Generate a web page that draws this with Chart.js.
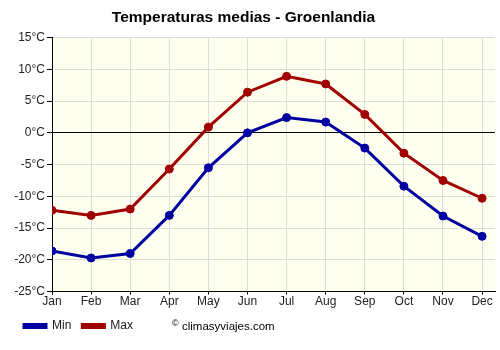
<!DOCTYPE html>
<html>
<head>
<meta charset="utf-8">
<script src="https://cdn.jsdelivr.net/npm/chart.js@4.4.0/dist/chart.umd.min.js"></script>
<style>
  html, body { margin: 0; padding: 0; background: #fff; }
  #wrap { width: 500px; height: 350px; position: relative; }
</style>
</head>
<body>
<div id="wrap"><canvas id="chart"></canvas></div>
<script>
// datos
const months = ['Jan', 'Feb', 'Mar', 'Apr', 'May', 'Jun', 'Jul', 'Aug', 'Sep', 'Oct', 'Nov', 'Dec'];
const tempMin = [-18.6, -19.7, -19.0, -13.0, -5.5, 0.0, 2.4, 1.7, -2.4, -8.4, -13.1, -16.3];
const tempMax = [-12.2, -13.0, -12.0, -5.7, 0.9, 6.4, 8.9, 7.7, 2.9, -3.2, -7.5, -10.3];
const yTicks = [-25, -20, -15, -10, -5, 0, 5, 10, 15];

const toPoints = (arr) => arr.map((v, i) => ({ x: i, y: v }));

const plotBg = {
    id: 'plotBg',
    afterLayout(chart) {
        // mover la leyenda un poco a la derecha y el titulo a la izquierda
        chart.legend.left += 13;
        chart.legend.right += 13;
        chart.titleBlock.right -= 20;
    },
    beforeDraw(chart) {
        const { ctx, chartArea: a } = chart;
        ctx.save();
        ctx.fillStyle = '#fffff0';
        ctx.fillRect(a.left, a.top, a.right - a.left, a.bottom - a.top);
        ctx.restore();
    },
    afterDraw(chart) {
        const ctx = chart.ctx;
        ctx.save();
        ctx.fillStyle = '#000';
        ctx.font = '9px "Liberation Sans", Arial, sans-serif';
        ctx.textBaseline = 'middle';
        ctx.fillText('©', 172, 324);
        ctx.font = '11.5px "Liberation Sans", Arial, sans-serif';
        ctx.fillText('climasyviajes.com', 182, 327);
        ctx.restore();
    }
};

const ctx = document.getElementById('chart').getContext('2d');
const chart = new Chart(ctx, {
    type: 'line',
    data: {
        datasets: [{
            label: 'Min',
            data: toPoints(tempMin),
            borderColor: '#0000a0',
            backgroundColor: '#0000a0',
            borderWidth: 3,
            pointRadius: 4,
            pointBorderWidth: 1,
            pointHoverRadius: 4
        }, {
            label: 'Max',
            data: toPoints(tempMax),
            borderColor: '#a00000',
            backgroundColor: '#a00000',
            borderWidth: 3,
            pointRadius: 4,
            pointBorderWidth: 1,
            pointHoverRadius: 4
        }]
    },
    options: {
        responsive: true,
        maintainAspectRatio: false,
        animation: false,
        layout: { padding: { left: 0, right: -7, top: 0, bottom: 8 } },
        plugins: {
            title: {
                display: true,
                text: 'Temperaturas medias - Groenlandia',
                color: '#000',
                font: { family: '"Liberation Sans", Arial, sans-serif', size: 15.5, weight: 'bold' },
                padding: { top: 8, bottom: 11 }
            },
            legend: {
                position: 'bottom',
                align: 'start',
                labels: {
                    color: '#222',
                    boxWidth: 22,
                    boxHeight: 3,
                    padding: 11,
                    font: { family: '"Liberation Sans", Arial, sans-serif', size: 12 }
                }
            },
            tooltip: { enabled: false }
        },
        scales: {
            x: {
                type: 'linear',
                min: 0,
                max: 11.33,
                afterBuildTicks: (scale) => {
                    scale.ticks = months.map((m, i) => ({ value: i }));
                },
                ticks: {
                    color: '#222',
                    padding: 0,
                    font: { family: '"Liberation Sans", Arial, sans-serif', size: 12 },
                    callback: (v) => months[v]
                },
                grid: { color: '#dcdcdc', tickColor: '#000', tickLength: 3 },
                border: { color: '#000', width: 1 }
            },
            y: {
                min: -25,
                max: 15,
                afterBuildTicks: (scale) => {
                    scale.ticks = yTicks.map((v) => ({ value: v }));
                },
                afterFit: (scale) => { scale.width = 52; },
                ticks: {
                    color: '#222',
                    padding: 2,
                    font: { family: '"Liberation Sans", Arial, sans-serif', size: 12 },
                    callback: (v) => v + '°C'
                },
                grid: {
                    color: (c) => (c.tick && c.tick.value === 0 ? '#000' : '#dcdcdc'),
                    tickColor: '#000',
                    tickLength: 5
                },
                border: { color: '#000', width: 1 }
            }
        }
    },
    plugins: [plotBg]
});
</script>
</body>
</html>
